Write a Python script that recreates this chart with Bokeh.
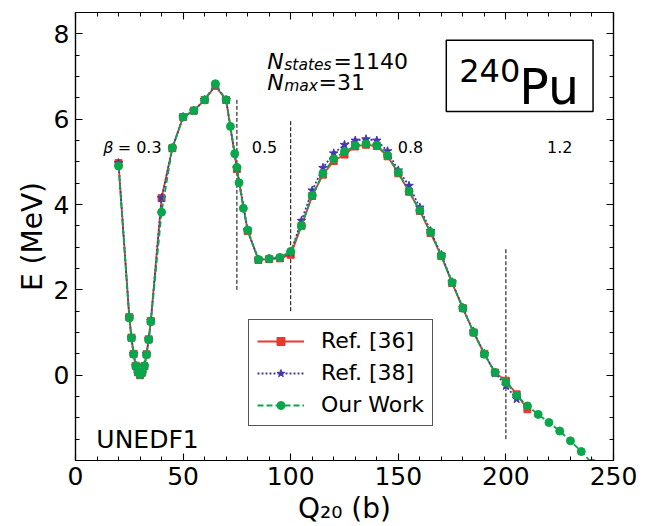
from bokeh.plotting import figure
from bokeh.models import (LinearAxis, Range1d, FixedTicker, Label, BoxAnnotation,
                          Legend, LegendItem)
from bokeh.embed import file_html
from bokeh.resources import INLINE

FONT = "DejaVu Sans"
RED = "#e63a2c"
BLUE = "#4536ad"
GREEN = "#0aa64c"

# ---------------- data ----------------
q_ref36 = [20, 25, 26, 27, 28, 29, 30, 31, 32, 33, 34, 35, 40, 45, 50, 55, 60, 65, 70, 75,
           80, 85, 90, 95, 100, 105, 110, 115, 120, 125, 130, 135, 140, 145, 150, 155,
           160, 165, 170, 175, 180, 185, 190, 195, 200, 205, 210]
e_ref36 = [4.97, 1.36, 0.88, 0.50, 0.22, 0.07, 0.00, 0.06, 0.21, 0.49, 0.84, 1.27, 4.15,
           5.32, 6.05, 6.20, 6.45, 6.78, 6.45, 4.83, 3.38, 2.70, 2.72, 2.74, 2.82, 3.50,
           4.20, 4.70, 5.02, 5.17, 5.36, 5.40, 5.37, 5.13, 4.73, 4.30, 3.85, 3.33, 2.79,
           2.16, 1.57, 1.00, 0.50, 0.06, -0.13, -0.45, -0.80]

q_ref38 = [20, 25, 26, 27, 28, 29, 30, 31, 32, 33, 34, 35, 40, 45, 50, 55, 60, 65, 70, 75,
           80, 85, 90, 95, 100, 105, 110, 115, 120, 125, 130, 135, 140, 145, 150, 155,
           160, 165, 170, 175, 180, 185, 190, 195, 200, 205]
e_ref38 = [4.97, 1.36, 0.88, 0.50, 0.22, 0.07, 0.00, 0.06, 0.21, 0.49, 0.84, 1.27, 4.15,
           5.32, 6.05, 6.20, 6.45, 6.80, 6.45, 4.85, 3.40, 2.71, 2.73, 2.75, 2.87, 3.62,
           4.33, 4.86, 5.20, 5.40, 5.50, 5.53, 5.50, 5.25, 4.80, 4.44, 3.93, 3.38, 2.82,
           2.18, 1.58, 1.02, 0.50, 0.05, -0.25, -0.56]

q_ours = [20, 25, 26, 27, 28, 29, 30, 31, 32, 33, 34, 35, 40, 45, 50, 55, 60, 65, 70, 72,
          74, 75, 76, 78, 80, 85, 90, 95, 100, 105, 110, 115, 120, 125, 130, 135, 140,
          145, 150, 155, 160, 165, 170, 175, 180, 185, 190, 195, 200, 205, 210, 215, 220,
          225, 230, 235, 240]
e_ours = [4.90, 1.34, 0.87, 0.49, 0.22, 0.07, 0.01, 0.07, 0.22, 0.48, 0.83, 1.25, 3.82,
          5.33, 6.05, 6.20, 6.45, 6.83, 6.45, 5.83, 5.19, 4.87, 4.51, 3.91, 3.40, 2.71,
          2.73, 2.76, 2.90, 3.50, 4.21, 4.73, 5.07, 5.24, 5.38, 5.42, 5.39, 5.15, 4.75,
          4.31, 3.86, 3.35, 2.80, 2.17, 1.57, 1.00, 0.49, 0.06, -0.17, -0.47, -0.72,
          -0.92, -1.11, -1.31, -1.54, -1.79, -2.06]

legend_labels = ["Ref. [36]", "Ref. [38]", "Our Work"]
x_axis_title = "Q₂₀ (b)"
y_axis_title = "E (MeV)"

x_major_ticks = [0, 50, 100, 150, 200, 250]
x_minor_ticks = list(range(0, 251, 10))
y_major_ticks = [0, 2, 4, 6, 8]
y_minor_ticks = [v * 0.5 for v in range(-4, 18)]

beta_line_q = [75, 100, 200]
beta_line_bottom = [2.0, 1.5, -1.5]
beta_line_top = [6.5, 6.0, 3.0]
beta_labels = ["0.5", "0.8", "1.2"]
beta_label_q = [87.8, 155.7, 225.0]

# ---------------- figure ----------------
p = figure(frame_width=538, frame_height=448, x_range=Range1d(0, 250), y_range=Range1d(-2.0, 8.5),
           output_backend="svg", toolbar_location=None,
           min_border_left=75, min_border_right=30, min_border_top=12, min_border_bottom=40,
           background_fill_color="white", border_fill_color="white")
p.xgrid.visible = False
p.ygrid.visible = False
p.outline_line_color = "black"
p.outline_line_width = 1.2


def style_axis(ax, show_labels):
    ax.axis_line_color = "black"
    ax.axis_line_width = 1.2
    ax.major_tick_in = 7
    ax.major_tick_out = 0
    ax.minor_tick_in = 4
    ax.minor_tick_out = 0
    ax.major_tick_line_color = "black"
    ax.minor_tick_line_color = "black"
    ax.major_tick_line_width = 1.1
    ax.minor_tick_line_width = 1.0
    ax.major_label_text_font = FONT
    if show_labels:
        ax.major_label_text_color = "black"
        ax.major_label_text_font_size = "25px"
        ax.major_label_standoff = 6
        ax.axis_label_text_font = FONT
        ax.axis_label_text_font_size = "28px"
        ax.axis_label_text_font_style = "normal"
        ax.axis_label_text_color = "black"
    else:
        ax.major_label_text_color = None
        ax.major_label_text_alpha = 0
        ax.major_label_text_font_size = "1px"
        ax.major_label_standoff = 0


xt = FixedTicker(ticks=x_major_ticks, minor_ticks=x_minor_ticks)
yt = FixedTicker(ticks=y_major_ticks, minor_ticks=y_minor_ticks)
p.xaxis.ticker = xt
p.yaxis.ticker = yt
style_axis(p.xaxis[0], True)
style_axis(p.yaxis[0], True)
p.xaxis.axis_label = x_axis_title
p.yaxis.axis_label = y_axis_title
p.xaxis.axis_label_standoff = 4
p.yaxis.axis_label_standoff = 2

ax_top = LinearAxis(ticker=FixedTicker(ticks=x_major_ticks, minor_ticks=x_minor_ticks))
ax_right = LinearAxis(ticker=FixedTicker(ticks=y_major_ticks, minor_ticks=y_minor_ticks))
style_axis(ax_top, False)
style_axis(ax_right, False)
p.add_layout(ax_top, "above")
p.add_layout(ax_right, "right")

# beta separators
p.segment(x0=beta_line_q, y0=beta_line_bottom, x1=beta_line_q, y1=beta_line_top,
          line_color="black", line_width=1, line_dash="4 2")

# curves
l1 = p.line(q_ref36, e_ref36, line_color=RED, line_width=1.8)
m1 = p.scatter(q_ref36, e_ref36, marker="square", size=7, fill_color=RED, line_color=RED)
l2 = p.line(q_ref38, e_ref38, line_color=BLUE, line_width=1.8, line_dash="2 2")
m2 = p.scatter(q_ref38, e_ref38, marker="star", size=9, fill_color=BLUE, line_color=BLUE)
l3 = p.line(q_ours, e_ours, line_color=GREEN, line_width=1.8, line_dash="6 3")
m3 = p.scatter(q_ours, e_ours, marker="circle", size=8, fill_color=GREEN, line_color=GREEN)

legend = Legend(items=[LegendItem(label=legend_labels[0], renderers=[l1, m1]),
                       LegendItem(label=legend_labels[1], renderers=[l2, m2]),
                       LegendItem(label=legend_labels[2], renderers=[l3, m3])],
                location=(173, 34), label_text_font=FONT, label_text_font_size="22px",
                label_text_color="black",
                glyph_width=47, glyph_height=20, label_standoff=17, padding=8, spacing=7,
                margin=0, border_line_color="#555555", border_line_width=1.2,
                border_line_alpha=1.0, background_fill_alpha=1.0)
p.add_layout(legend)


def lab(x, y, text, size, style="normal", align="left"):
    p.add_layout(Label(x=x, y=y, text=text, text_font=FONT, text_font_size=size,
                       text_font_style=style, text_align=align,
                       text_baseline="alphabetic", text_color="black"))


# deformation labels
lab(12.9, 5.34, "β", "16px", "italic")
lab(19.6, 5.34, "= 0.3", "16px")
for q, t in zip(beta_label_q, beta_labels):
    lab(q, 5.34, t, "16px", align="center")

# N states / N max
lab(89.1, 7.355, "N", "22px", "italic")
lab(97.0, 7.27, "states", "15.5px", "italic")
lab(119.9, 7.355, "=1140", "22px")
lab(89.1, 6.86, "N", "22px", "italic")
lab(97.0, 6.78, "max", "15.5px", "italic")
lab(112.9, 6.86, "=31", "22px")

# nucleus box
p.add_layout(BoxAnnotation(left=172.3, right=240.5, bottom=6.18, top=7.85, fill_alpha=0.0,
                           line_color="black", line_alpha=1.0, line_width=1.5))
lab(178.3, 7.14, "240", "32px")
lab(206.2, 6.74, "Pu", "49px")

lab(9.7, -1.50, "UNEDF1", "25px")

open("out.html", "w").write(file_html(p, INLINE))
